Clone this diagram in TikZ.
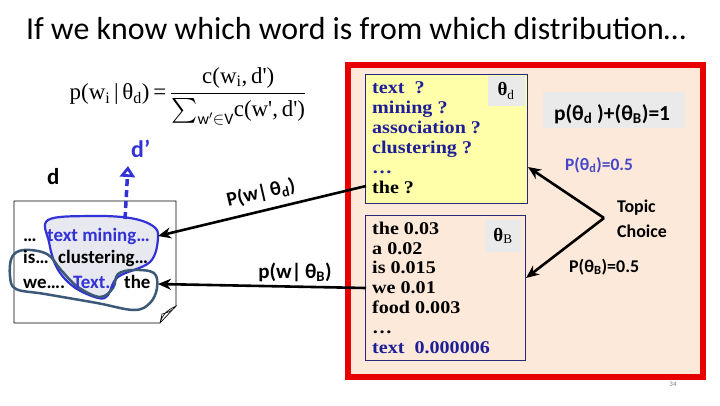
\documentclass[tikz,border=0pt]{standalone}
\usepackage{exscale}
\usepackage{fontspec}
\setmainfont{Carlito}
\newfontfamily\tms{Liberation Serif}
\newfontfamily\tmsw{Liberation Serif}[FakeStretch=1.12]
\usetikzlibrary{arrows.meta}
\definecolor{peach}{RGB}{252,233,218}
\definecolor{ylw}{RGB}{255,255,170}
\definecolor{navy}{RGB}{30,30,150}
\definecolor{bord}{RGB}{40,40,120}
\definecolor{dblue}{RGB}{50,50,215}
\definecolor{pblue}{RGB}{70,70,200}
\definecolor{slate}{RGB}{60,90,120}
\definecolor{redf}{RGB}{232,0,0}
\definecolor{lgray}{RGB}{234,234,234}
\definecolor{blobf}{RGB}{232,232,240}
\tikzset{
  lbl/.style={inner sep=0pt, font=\bfseries\fontsize{20}{22}\selectfont},
  arr/.style={line width=2.6bp, -{Stealth[length=13bp,width=11bp]}},
  box/.style={draw=bord, line width=0.7bp, inner sep=0pt, anchor=north west},
  ytxt/.style={anchor=base west, inner sep=0pt, text=navy, font=\tmsw\bfseries\fontsize{18}{20}\selectfont},
  dtxt/.style={anchor=base west, inner sep=0pt, font=\bfseries\fontsize{19}{20}\selectfont},
  thbox/.style={fill=lgray, inner sep=0pt, font=\tms\bfseries\fontsize{19}{20}\selectfont},
}
\begin{document}
\begin{tikzpicture}[x=1bp,y=-1bp]
\useasboundingbox (0,0) rectangle (720,405);
\fill[white] (0,0) rectangle (720,405);

% title
\node[anchor=base, inner sep=0pt, font=\fontsize{32}{36}\selectfont] (title) at (356,39) {If we know which word is from which distribution…};

% formula
\node[inner sep=0pt, font=\tms\fontsize{23}{26}\selectfont] (formula) at (188,96)
  {p(w\textsubscript{i}\,|\,θ\textsubscript{d})\,=\,$\displaystyle\frac{\hbox{\tms c(w\textsubscript{i},\,d')}}{\hbox{\tms $\textstyle\sum_{\mathrm{w'\in V}}$c(w',\,d')}}$};

% labels d and d'
\node[anchor=base west, inner sep=0pt, font=\bfseries\fontsize{23}{26}\selectfont] (d) at (47,184) {d};
\node[anchor=base west, inner sep=0pt, text=dblue, font=\bfseries\fontsize{24}{26}\selectfont] (dp) at (131,157) {d’};

% document
\draw[black, line width=0.7bp, fill=white] (14,201) -- (176,201) -- (176,306) -- (160,323) -- (14,323) -- cycle;
\draw[black, line width=0.6bp, fill=white] (160,323) .. controls (162,316) and (165,311) .. (176,306) .. controls (171,312) and (166,313) .. (162,314) -- cycle;

% blobs
\draw[dblue, line width=2.2bp, fill=blobf] plot[smooth cycle, tension=0.6] coordinates
  {(48,220) (90,216) (130,218) (153,226) (158,238) (150,262) (118,277) (108,295) (98,298) (74,287) (57,268) (49,242)};
\draw[slate, line width=2.5bp] plot[smooth cycle, tension=0.6] coordinates
  {(12,257) (24,250) (47,254) (61,270) (78,287) (100,297) (113,288) (118,274) (134,270) (154,273) (157,288) (150,303) (134,310) (97,303) (45,294) (16,289) (10,276)};

% document text
\node[dtxt] (l1a) at (23,241) {…};
\node[dtxt, text=dblue] (l1b) at (47,241) {text mining…};
\node[dtxt] (l2a) at (23,263) {is…};
\node[dtxt] (l2b) at (58,263) {clustering…};
\node[dtxt] (l3a) at (23,288) {we….};
\node[dtxt, text=dblue] (l3b) at (73,288) {Text..};
\node[dtxt] (l3c) at (124,288) {the};

% blue dashed arrow to d'
\coordinate (dps) at (125,219);
\coordinate (dpe) at (128,166);
\draw[dblue, line width=3.5bp, dash pattern=on 7bp off 4bp, -{Triangle[open, length=11bp, width=15bp, line width=2.8bp]}] (dps) -- (dpe);

% red frame
\draw[redf, line width=6bp, fill=peach] (348,65) rectangle (703,377);

% theta_d box
\node[box, fill=ylw, minimum width=162bp, minimum height=129bp] (yb) at (365,74) {};
\node[thbox, minimum width=37bp, minimum height=30bp] (thd) at (506,91) {θ\textsubscript{\mdseries d}};
\node[ytxt] (y1) at (372,93) {text \ ?};
\node[ytxt] (y2) at (372,113) {mining ?};
\node[ytxt] (y3) at (372,133) {association ?};
\node[ytxt] (y4) at (372,153) {clustering ?};
\node[ytxt] (y5) at (372,173) {…};
\node[ytxt, text=black] (y6) at (372,193) {the ?};

% theta_B box
\node[box, fill=peach, minimum width=160bp, minimum height=145bp] (bb) at (365,215) {};
\node[thbox, minimum width=36bp, minimum height=32bp] (thb) at (503,236) {θ\textsubscript{\mdseries B}};
\node[ytxt, text=black] (b1) at (372,234) {the 0.03};
\node[ytxt, text=black] (b2) at (372,254) {a 0.02};
\node[ytxt, text=black] (b3) at (372,273) {is 0.015};
\node[ytxt, text=black] (b4) at (372,293) {we 0.01};
\node[ytxt, text=black] (b5) at (372,313) {food 0.003};
\node[ytxt, text=black] (b6) at (372,333) {…};
\node[ytxt] (b7) at (372,353) {text \ 0.000006};

% arrows from distributions to words
\coordinate (a1s) at (366,186);
\coordinate (a1e) at (158,236);
\coordinate (a2s) at (366,288);
\coordinate (a2e) at (158,284);
\draw[arr] (a1s) -- (a1e);
\draw[arr] (a2s) -- (a2e);
\node[lbl, rotate=13] (pwd) at (261,193) {P(w|\,θ\textsubscript{d})};
\node[lbl, anchor=base, font=\bfseries\fontsize{21}{22}\selectfont] (pwb) at (295,278) {p(w|\,θ\textsubscript{B})};

% right side
\node[fill=lgray, minimum width=142bp, minimum height=36bp, inner sep=0pt] (sum) at (614,110) {};
\node[lbl, font=\bfseries\fontsize{21.5}{22}\selectfont, anchor=base] (sumt) at (612,120) {p(θ\textsubscript{d} )+(θ\textsubscript{B})=1};
\node[lbl, text=pblue, font=\bfseries\fontsize{17.5}{18}\selectfont, anchor=base west] (pd) at (565,170) {P(θ\textsubscript{d})=0.5};
\node[lbl, font=\bfseries\fontsize{18}{18}\selectfont, anchor=base west] (pb) at (569,272) {P(θ\textsubscript{B})=0.5};
\node[lbl, font=\bfseries\fontsize{18}{25}\selectfont, align=left, anchor=west] (tc) at (617,219) {Topic\\Choice};
\coordinate (tv) at (604,218);
\coordinate (tte) at (528,167);
\coordinate (tbe) at (526,278);
\draw[arr] (tv) -- (tte);
\draw[arr] (tv) -- (tbe);

% page number
\node[inner sep=0pt, text=gray, font=\fontsize{7}{8}\selectfont] (pg) at (673,384) {34};
\end{tikzpicture}
\end{document}
